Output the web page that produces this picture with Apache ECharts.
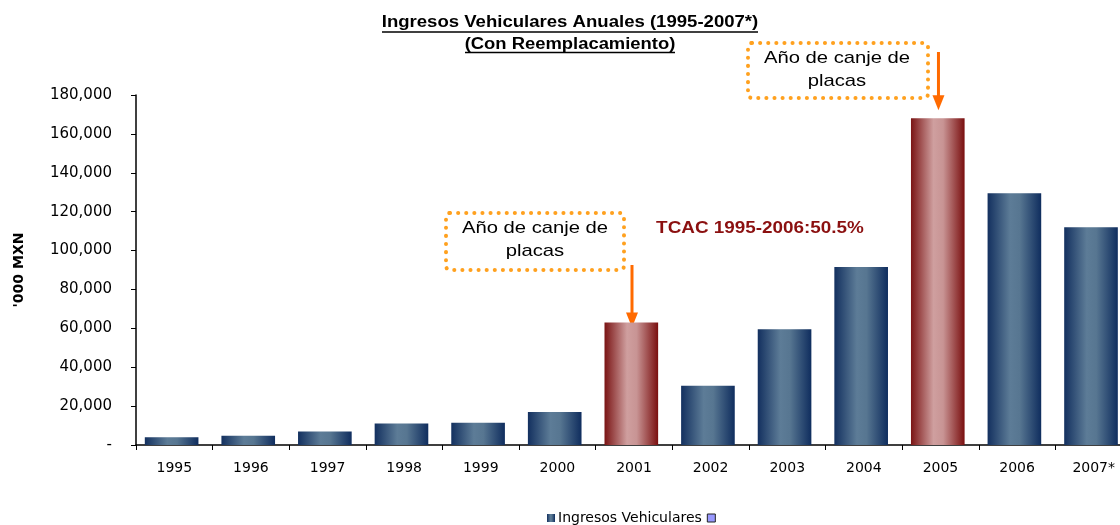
<!DOCTYPE html>
<html>
<head>
<meta charset="utf-8">
<script src="https://cdn.jsdelivr.net/npm/echarts@6/dist/echarts.min.js"></script>
<style>
  html, body { margin: 0; padding: 0; background: #fff; }
  #chart { width: 1120px; height: 525px; }
</style>
</head>
<body>
<div id="chart"></div>
<script>
// datos
const years = ['1995', '1996', '1997', '1998', '1999', '2000', '2001', '2002', '2003', '2004', '2005', '2006', '2007*']
const ingresos = [4000, 4800, 7000, 11000, 11500, 17000, 63000, 30500, 59500, 91500, 168000, 129500, 112000]
const canjeYears = ['2001', '2005']
const arrowStartY = [265, 52]   // donde arranca cada flecha (debajo del recuadro)
const arrowTipGap = [-5, 8]     // distancia de la punta al tope de la barra

const FONT = 'Liberation Sans, Arial, sans-serif'
const WIDE = 'DejaVu Sans, sans-serif'

const blueGrad = {
  type: 'linear', x: 0, y: 0, x2: 1, y2: 0,
  colorStops: [
    {offset: 0, color: '#13305f'},
    {offset: 0.42, color: '#5d7c97'},
    {offset: 0.6, color: '#577691'},
    {offset: 1, color: '#0f2d5e'}
  ]
}
const redGrad = {
  type: 'linear', x: 0, y: 0, x2: 1, y2: 0,
  colorStops: [
    {offset: 0, color: '#7a1414'},
    {offset: 0.42, color: '#cf9f9f'},
    {offset: 0.6, color: '#c89494'},
    {offset: 1, color: '#7a0f0f'}
  ]
}

const chart = echarts.init(document.getElementById('chart'))

const barData = ingresos.map((v, i) => ({
  value: v,
  itemStyle: {color: canjeYears.includes(years[i]) ? redGrad : blueGrad}
}))

function dottedBox(x, y, w, h) {
  return {
    type: 'rect',
    shape: {x, y, width: w, height: h, r: 4},
    style: {fill: 'none', stroke: '#ffa11f', lineWidth: 4, lineDash: [0.1, 8], lineCap: 'round'}
  }
}

// texto estirado en horizontal como en la imagen original
function wideText(text, x, y, font, fill, sx) {
  return {
    type: 'text', x, y, scaleX: sx,
    style: {text, font, fill, align: 'center', verticalAlign: 'middle'}
  }
}

chart.setOption({
  animation: false,
  grid: {left: 136, width: 996, top: 95, bottom: 80, outerBoundsMode: 'none', containLabel: false},
  legend: {
    top: 511, left: 547, padding: 0,
    icon: 'rect', itemWidth: 8, itemHeight: 8, itemGap: 5,
    textStyle: {fontFamily: WIDE, fontSize: 14, color: '#000', padding: [0, 0, 0, -2]},
    data: ['Ingresos Vehiculares', {name: ' ', itemStyle: {color: '#9999ff', borderColor: '#222', borderWidth: 1}}]
  },
  xAxis: {
    type: 'category',
    data: years,
    axisLine: {lineStyle: {color: '#000', width: 1.5}},
    axisTick: {show: true, length: 5, lineStyle: {color: '#000'}},
    axisLabel: {color: '#000', fontFamily: WIDE, fontSize: 14, margin: 16}
  },
  yAxis: {
    type: 'value',
    min: 0, max: 180000, interval: 20000,
    name: "'000 MXN",
    nameLocation: 'middle',
    nameGap: 110,
    nameTextStyle: {fontFamily: WIDE, fontSize: 14, fontWeight: 'bold', color: '#000'},
    axisLine: {show: true, lineStyle: {color: '#000', width: 1.5}},
    axisTick: {show: true, length: 5, lineStyle: {color: '#000'}},
    splitLine: {show: false},
    axisLabel: {
      color: '#000', fontFamily: WIDE, fontSize: 15, margin: 24,
      formatter: v => v === 0 ? '-' : v.toLocaleString('en-US')
    }
  },
  series: [
    {
      name: 'Ingresos Vehiculares',
      type: 'bar',
      data: barData,
      barWidth: '70%',
      itemStyle: {color: blueGrad}
    },
    {
      name: ' ',
      type: 'bar',
      data: [],
      itemStyle: {color: '#9999ff', borderColor: '#222', borderWidth: 1}
    }
  ]
})

// flechas hacia las barras de canje
const arrows = canjeYears.map((y, k) => {
  const i = years.indexOf(y)
  const p = chart.convertToPixel({seriesIndex: 0}, [i, ingresos[i]])
  const x = p[0] - 2
  const tip = p[1] - arrowTipGap[k]
  return {
    type: 'group',
    children: [
      {type: 'line', shape: {x1: x, y1: arrowStartY[k], x2: x, y2: tip - 12}, style: {stroke: '#ff6a00', lineWidth: 3}},
      {type: 'polygon', shape: {points: [[x - 6, tip - 15], [x + 6, tip - 15], [x, tip]]}, style: {fill: '#ff6a00'}}
    ]
  }
})

const boxFont = '17px ' + FONT
chart.setOption({
  graphic: [
    wideText('Ingresos Vehiculares Anuales (1995-2007*)', 570, 23, 'bold 16px ' + FONT, '#000', 1.16),
    wideText('(Con Reemplacamiento)', 570, 44.5, 'bold 16px ' + FONT, '#000', 1.15),
    {type: 'line', shape: {x1: 382, y1: 32, x2: 758, y2: 32}, style: {stroke: '#000', lineWidth: 1.5}},
    {type: 'line', shape: {x1: 465, y1: 52.5, x2: 675, y2: 52.5}, style: {stroke: '#000', lineWidth: 1.5}},
    dottedBox(446, 213, 178, 57),
    wideText('Año de canje de', 535, 228, boxFont, '#000', 1.19),
    wideText('placas', 535, 251, boxFont, '#000', 1.19),
    dottedBox(748, 43, 180, 55),
    wideText('Año de canje de', 837, 58, boxFont, '#000', 1.19),
    wideText('placas', 837, 81, boxFont, '#000', 1.19),
    wideText('TCAC 1995-2006:50.5%', 760, 229, 'bold 16px ' + FONT, '#8b1010', 1.18),
    ...arrows
  ]
})
</script>
</body>
</html>
